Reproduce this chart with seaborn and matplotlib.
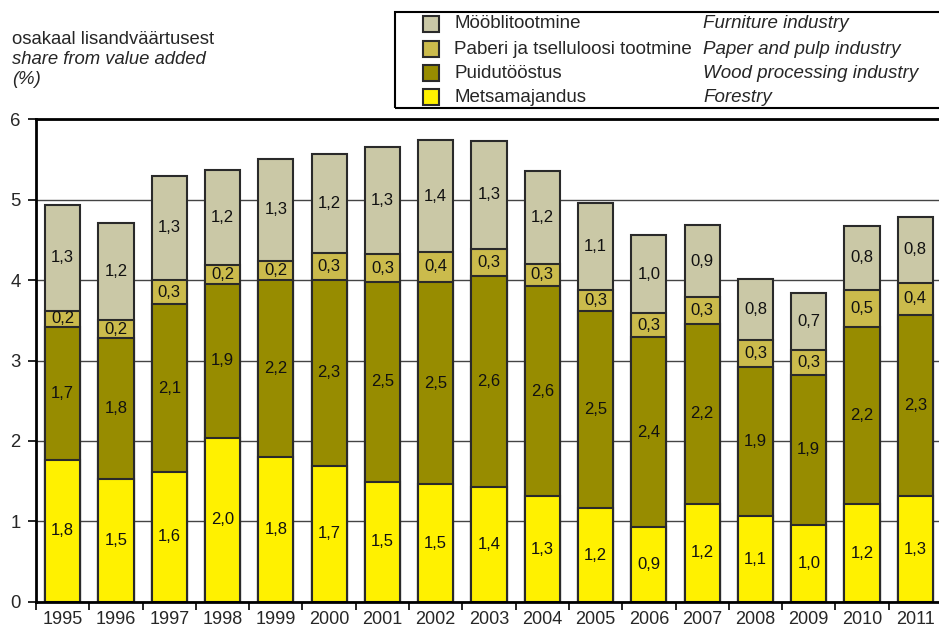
import numpy as np
import pandas as pd
import matplotlib
matplotlib.use("Agg")
import matplotlib.pyplot as plt
from matplotlib.patches import Rectangle
import seaborn as sns

years = [str(y) for y in range(1995, 2012)]
forestry = [1.76, 1.52, 1.61, 2.04, 1.80, 1.69, 1.49, 1.46, 1.43, 1.31, 1.16, 0.93, 1.22, 1.06, 0.96, 1.21, 1.31]
wood = [1.66, 1.76, 2.09, 1.91, 2.20, 2.31, 2.49, 2.52, 2.62, 2.62, 2.46, 2.36, 2.24, 1.86, 1.86, 2.21, 2.26]
paper = [0.20, 0.22, 0.30, 0.24, 0.24, 0.34, 0.34, 0.37, 0.34, 0.27, 0.26, 0.30, 0.33, 0.33, 0.31, 0.46, 0.40]
furniture = [1.32, 1.21, 1.30, 1.18, 1.27, 1.23, 1.34, 1.39, 1.34, 1.16, 1.08, 0.97, 0.89, 0.76, 0.71, 0.79, 0.81]

names_et = ["Mööblitootmine", "Paberi ja tselluloosi tootmine", "Puidutööstus", "Metsamajandus"]
names_en = ["Furniture industry", "Paper and pulp industry", "Wood processing industry", "Forestry"]
colors = ["#CAC8A6", "#CBBB4C", "#978C00", "#FFF100"]

sns.set_style("white")
plt.rcParams["font.family"] = ["Liberation Sans", "DejaVu Sans"]

df = pd.DataFrame({"year": years, "forestry": forestry, "wood": wood,
                   "paper": paper, "furniture": furniture})
stack_order = ["forestry", "wood", "paper", "furniture"]
cum = df[stack_order].cumsum(axis=1)

W, H = 939, 632
fig = plt.figure(figsize=(W / 100, H / 100), dpi=100)
ax = fig.add_axes([36 / W, (H - 601.7) / H, (942 - 36) / W, (601.7 - 119.3) / H])

# stacked bars: draw cumulative totals from top layer down
for col, color in zip(stack_order[::-1], colors):
    sns.barplot(x=df["year"], y=cum[col], color=color, width=0.66,
                edgecolor="#2a2a2a", linewidth=1.5, saturation=1, ax=ax, zorder=2)

# value labels in segment centres
for i in range(len(years)):
    bottom = 0
    for col in stack_order:
        v = df[col][i]
        ax.text(i, bottom + v / 2, f"{v:.1f}".replace(".", ","),
                ha="center", va="center", fontsize=12, color="#111111", zorder=3)
        bottom += v

ax.set_ylim(0, 6)
ax.set_xlim(-0.5, len(years) - 0.5)
ax.set_yticks(range(0, 7))
ax.yaxis.grid(True, color="#444444", linewidth=1)
ax.set_axisbelow(True)
ax.set_xlabel("")
ax.set_ylabel("")

ax.set_xticks(range(len(years)))
ax.set_xticklabels(years)
ax.set_xticks(np.arange(-0.5, len(years), 1), minor=True)
ax.tick_params(axis="x", which="major", length=0, labelsize=13, pad=7)
ax.tick_params(axis="x", which="minor", length=6, width=1.2, color="black", direction="out")
ax.tick_params(axis="y", length=6, width=1.2, color="black", direction="out",
               labelsize=13.3, pad=5)
ax.xaxis.set_ticks_position("bottom")
ax.yaxis.set_ticks_position("left")

for side in ["left", "bottom", "top"]:
    ax.spines[side].set_visible(True)
    ax.spines[side].set_color("black")
    ax.spines[side].set_linewidth(2)
ax.spines["right"].set_visible(False)

# axis title at top left
fig.text(12 / W, 1 - 40 / H, "osakaal lisandväärtusest", fontsize=13.3, va="center")
fig.text(12 / W, 1 - 59 / H, "share from value added", fontsize=13.3, va="center", style="italic")
fig.text(12 / W, 1 - 79 / H, "(%)", fontsize=13.3, va="center", style="italic")

# legend box
fig.patches.append(Rectangle((395 / W, 1 - 108 / H), 560 / W, 96 / H,
                             transform=fig.transFigure, fill=False,
                             edgecolor="black", linewidth=1.5))
row_y = [24, 49, 73, 97]
for k in range(4):
    yk = 1 - row_y[k] / H
    fig.patches.append(Rectangle((423 / W, yk - 8 / H), 16 / W, 16 / H,
                                 transform=fig.transFigure, facecolor=colors[k],
                                 edgecolor="#2a2a2a", linewidth=1.5))
    fig.text(454 / W, yk, names_et[k], fontsize=13.5, va="center")
    fig.text(703 / W, yk, names_en[k], fontsize=13.5, va="center", style="italic")

fig.savefig("out.png", dpi=100)
